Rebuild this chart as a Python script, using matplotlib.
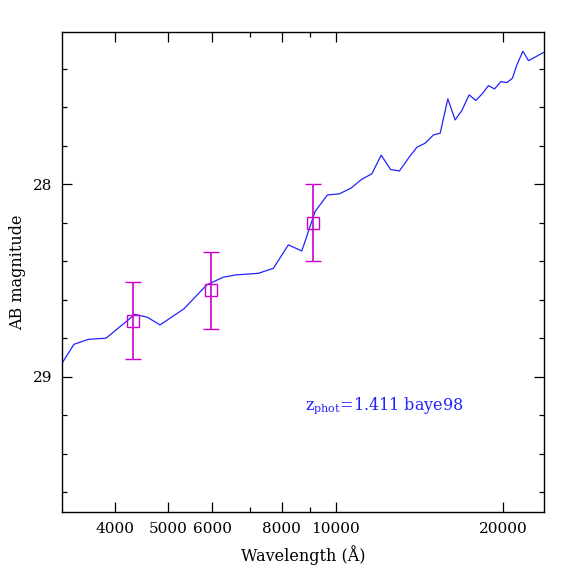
import numpy as np
import matplotlib
matplotlib.use('Agg')
from matplotlib import pyplot as plt
from matplotlib.ticker import FixedLocator, NullFormatter, FixedFormatter

# model spectrum (wavelength in Angstrom, AB magnitude)
wave = [3228, 3381, 3588, 3861, 4354, 4581, 4830, 5334, 5860, 6278,
        6616, 7256, 7722, 8218, 8687, 9179, 9658, 10150, 10641, 11137,
        11610, 12067, 12550, 13015, 13510, 13988, 14479, 14984, 15407, 15904,
        16392, 16855, 17372, 17862, 18312, 18820, 19294, 19812, 20311, 20785,
        21170, 21703, 22210, 23640]
mag = [28.924, 28.832, 28.806, 28.800, 28.676, 28.691, 28.731, 28.647, 28.523, 28.483,
       28.471, 28.463, 28.437, 28.315, 28.347, 28.142, 28.056, 28.050, 28.021, 27.974,
       27.946, 27.849, 27.924, 27.931, 27.865, 27.808, 27.787, 27.744, 27.735, 27.557,
       27.666, 27.617, 27.536, 27.565, 27.532, 27.488, 27.505, 27.467, 27.472, 27.449,
       27.380, 27.309, 27.358, 27.316]

# photometry
phot_wave = [4323, 5959, 9091]
phot_mag = [28.71, 28.55, 28.20]
phot_err = [0.2, 0.2, 0.2]

xticks = [4000, 5000, 6000, 8000, 10000, 20000]
xminor = [7000, 9000]
xlabels = ['4000', '5000', '6000', '8000', '10000', '20000']
label = r'$\mathrm{z_{phot}}$=1.411 baye98'


def main():
    plt.rcParams['font.family'] = ['DejaVu Serif']
    plt.rcParams['mathtext.fontset'] = 'dejavuserif'

    fig = plt.figure(figsize=(5.74, 5.74), dpi=100)
    ax = fig.add_axes([0.108, 0.108, 0.84, 0.837])

    ax.plot(wave, mag, color='#2222ff', lw=0.9)
    ax.errorbar(phot_wave, phot_mag, yerr=phot_err, fmt='s', mfc='none',
                mec='#cc00cc', ms=8, mew=1.0, ecolor='#cc00cc', elinewidth=1.2,
                capsize=6, capthick=1.2)

    ax.set_xscale('log')
    ax.set_xlim(3218, 23700)
    ax.set_ylim(29.703, 27.207)

    ax.xaxis.set_major_locator(FixedLocator(xticks))
    ax.xaxis.set_major_formatter(FixedFormatter(xlabels))
    ax.xaxis.set_minor_locator(FixedLocator(xminor))
    ax.xaxis.set_minor_formatter(NullFormatter())
    ax.yaxis.set_major_locator(FixedLocator([28, 29]))
    ax.yaxis.set_minor_locator(FixedLocator(np.arange(27.4, 29.7, 0.2)))

    ax.tick_params(which='both', direction='in', top=True, right=True,
                   width=0.9, labelsize=11, pad=7)
    ax.tick_params(which='major', length=7.2)
    ax.tick_params(which='minor', length=3.6)
    for s in ax.spines.values():
        s.set_linewidth(1.0)

    ax.set_xlabel('Wavelength (Å)', fontsize=11.5, labelpad=7)
    ax.set_ylabel('AB magnitude', fontsize=11.5, labelpad=5)

    ax.text(0.503, 0.213, label, transform=ax.transAxes, color='#2222ff',
            fontsize=11.5)

    fig.savefig('out.png', dpi=100)
    plt.close(fig)


if __name__ == '__main__':
    main()
